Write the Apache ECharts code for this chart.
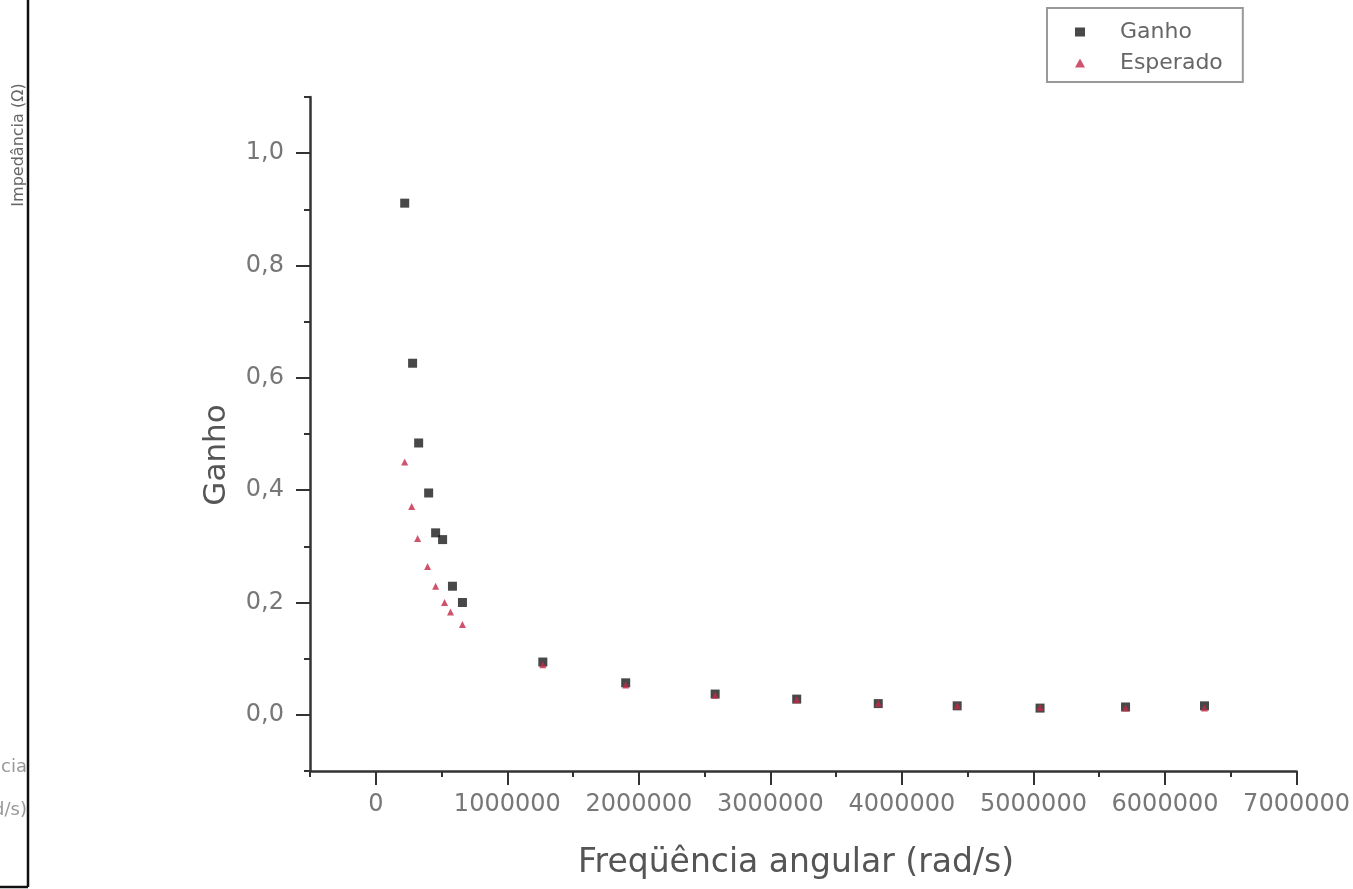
<!DOCTYPE html>
<html>
<head>
<meta charset="utf-8">
<script src="https://cdn.jsdelivr.net/npm/echarts@6/dist/echarts.min.js"></script>
<style>html,body{margin:0;padding:0;background:#fff}#c{width:1353px;height:889px}</style>
</head>
<body>
<div id="c"></div>
<script>
// Data
var ganhoX = [220000, 280000, 326000, 402000, 455000, 508000, 583000, 659000, 1270000, 1900000, 2580000, 3200000, 3820000, 4420000, 5050000, 5700000, 6300000];
var ganhoY = [0.911, 0.626, 0.484, 0.395, 0.324, 0.312, 0.229, 0.200, 0.094, 0.057, 0.037, 0.028, 0.020, 0.016, 0.012, 0.014, 0.016];
var esperadoX = [220000, 273000, 318000, 394000, 455000, 523000, 568000, 659000, 1270000, 1900000, 2580000, 3200000, 3820000, 4420000, 5050000, 5700000, 6300000];
var esperadoY = [0.450, 0.371, 0.314, 0.264, 0.229, 0.200, 0.183, 0.161, 0.089, 0.053, 0.035, 0.027, 0.020, 0.016, 0.013, 0.012, 0.012];
var xTickLabels = [0, 1000000, 2000000, 3000000, 4000000, 5000000, 6000000, 7000000];
var yTickLabels = [0.0, 0.2, 0.4, 0.6, 0.8, 1.0];
var seriesNames = ['Ganho', 'Esperado'];

function pairs(xs, ys) { return xs.map(function (x, i) { return [x, ys[i]]; }); }

var FONT = 'DejaVu Sans, Verdana, sans-serif';
var chart = echarts.init(document.getElementById('c'), null, {renderer: 'canvas'});
var axisColor = '#333';
var textColor = '#777';
chart.setOption({
  animation: false,
  backgroundColor: '#fff',
  textStyle: {fontFamily: FONT},
  grid: {left: 310, right: 53, top: 97, bottom: 118, containLabel: false},
  legend: {
    data: [{name: seriesNames[0], icon: 'rect'}, {name: seriesNames[1], icon: 'triangle'}],
    orient: 'vertical',
    left: 1047, top: 8,
    padding: [13, 20, 8, 28],
    itemGap: 9, itemWidth: 10, itemHeight: 9,
    borderColor: '#999', borderWidth: 2,
    textStyle: {color: '#666', fontSize: 22, fontFamily: FONT, padding: [0, 0, 0, 30]}
  },
  xAxis: [{
    type: 'value', min: -500000, max: 7000000, interval: 500000,
    position: 'bottom',
    axisLine: {show: true, onZero: false, lineStyle: {color: axisColor, width: 2.5}},
    axisTick: {show: true, length: 6, lineStyle: {color: axisColor, width: 2}},
    axisLabel: {customValues: xTickLabels, color: textColor, fontSize: 24, margin: 22, fontFamily: FONT,
      formatter: function (v) { return String(Math.round(v)); }},
    splitLine: {show: false}
  }, {
    type: 'value', min: -500000, max: 7000000, interval: 500000,
    position: 'bottom',
    axisLine: {show: false, onZero: false},
    axisTick: {show: true, length: 14, customValues: xTickLabels, lineStyle: {color: axisColor, width: 2}},
    axisLabel: {show: false},
    splitLine: {show: false}
  }],
  yAxis: [{
    type: 'value', min: -0.1, max: 1.1, interval: 0.1,
    position: 'left',
    axisLine: {show: true, onZero: false, lineStyle: {color: axisColor, width: 2.5}},
    axisTick: {show: true, length: 6, lineStyle: {color: axisColor, width: 2}},
    axisLabel: {customValues: yTickLabels, color: textColor, fontSize: 24, margin: 26, fontFamily: FONT,
      formatter: function (v) { return v.toFixed(1).replace('.', ','); }},
    splitLine: {show: false}
  }, {
    type: 'value', min: -0.1, max: 1.1, interval: 0.1,
    position: 'left',
    axisLine: {show: false, onZero: false},
    axisTick: {show: true, length: 14, customValues: yTickLabels, lineStyle: {color: axisColor, width: 2}},
    axisLabel: {show: false},
    splitLine: {show: false}
  }],
  graphic: [
    {type: 'text', x: 578, y: 863, style: {text: 'Freqüência angular (rad/s)', fill: '#555', fontSize: 33, verticalAlign: 'middle', fontFamily: FONT}},
    {type: 'text', x: 217, y: 455, rotation: Math.PI / 2, style: {text: 'Ganho', fill: '#555', fontSize: 31, align: 'center', verticalAlign: 'middle', fontFamily: FONT}},
    {type: 'text', x: 19, y: 145, rotation: Math.PI / 2, style: {text: 'Impedância (Ω)', fill: '#666', fontSize: 16, align: 'center', verticalAlign: 'middle', fontFamily: FONT}},
    {type: 'text', x: 27, y: 767, style: {text: 'Freqüência', fill: '#999', fontSize: 18, align: 'right', verticalAlign: 'middle', fontFamily: FONT}},
    {type: 'text', x: 27, y: 810, style: {text: 'angular (rad/s)', fill: '#999', fontSize: 18, align: 'right', verticalAlign: 'middle', fontFamily: FONT}},
    {type: 'line', shape: {x1: 28, y1: 0, x2: 28, y2: 887}, style: {stroke: '#111', lineWidth: 2.5}},
    {type: 'line', shape: {x1: 0, y1: 887, x2: 28, y2: 887}, style: {stroke: '#111', lineWidth: 2.5}}
  ],
  series: [{
    name: seriesNames[0], type: 'scatter', symbol: 'rect', symbolSize: 9,
    itemStyle: {color: '#1a1a1a'},
    data: pairs(ganhoX, ganhoY), z: 2
  }, {
    name: seriesNames[1], type: 'scatter', symbol: 'triangle', symbolSize: 7,
    itemStyle: {color: '#c42848'},
    data: pairs(esperadoX, esperadoY), z: 3
  }]
});
</script>
</body>
</html>
